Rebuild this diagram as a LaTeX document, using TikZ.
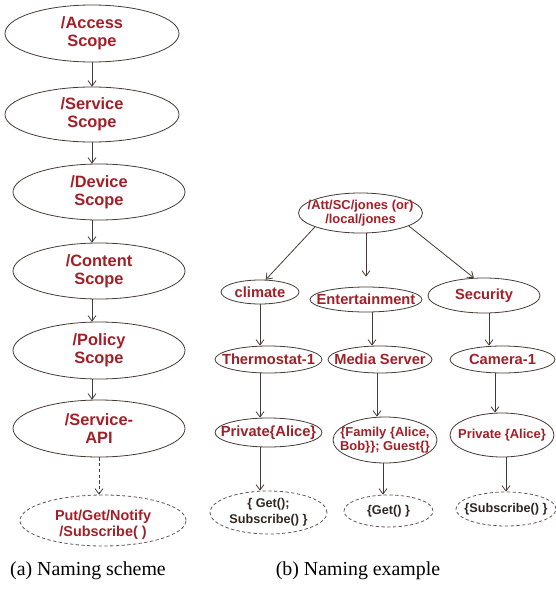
\documentclass[tikz,border=0pt]{standalone}
\usepackage{fontspec}
\setmainfont{Liberation Serif}
\setsansfont{Liberation Sans}
\usepackage{tikz}
\usetikzlibrary{shapes.geometric,arrows.meta}

\definecolor{namered}{HTML}{A31F27}
\definecolor{edgegray}{HTML}{453A36}
\definecolor{calltext}{HTML}{2F2622}

\tikzset{
  ell/.style={ellipse, draw=edgegray, line width=0.6pt, inner sep=0pt},
  callell/.style={ell, draw=edgegray!85, dash pattern=on 2.5pt off 1.8pt},
  scopetxt/.style={align=center, text=namered, font=\sffamily\bfseries\fontsize{12.3}{13.8}\selectfont},
  treetxt/.style={align=center, text=namered, font=\sffamily\bfseries\fontsize{11}{12.5}\selectfont},
  smalltxt/.style={align=center, text=namered, font=\sffamily\bfseries\fontsize{9.7}{10.8}\selectfont},
  puttxt/.style={align=center, text=namered, font=\sffamily\bfseries\fontsize{10.8}{11.8}\selectfont},
  calltxt/.style={align=center, text=calltext, font=\sffamily\bfseries\fontsize{9.5}{12}\selectfont},
  captxt/.style={font=\fontsize{14.9}{17}\selectfont, inner sep=0pt, anchor=base},
  arr/.style={-{Straight Barb[length=4pt,width=6pt]}, draw=edgegray, line width=0.6pt},
}

\begin{document}
\begin{tikzpicture}[x=0.75pt, y=-0.75pt]
  \useasboundingbox (0,0) rectangle (556,589);

  % (a) naming scheme
  \node[ell, minimum width=130.5pt, minimum height=42.75pt, label={[scopetxt]center:/Access\\Scope}] (acc) at (92,33.5) {};
  \node[ell, minimum width=130.5pt, minimum height=41.25pt, label={[scopetxt]center:/Service\\Scope}] (srv) at (92,114.5) {};
  \node[ell, minimum width=129pt, minimum height=42pt, label={[scopetxt]center:/Device\\Scope}] (dev) at (99,192) {};
  \node[ell, minimum width=129pt, minimum height=42pt, label={[scopetxt]center:/Content\\Scope}] (cnt) at (99,271) {};
  \node[ell, minimum width=129pt, minimum height=42.75pt, label={[scopetxt]center:/Policy\\Scope}] (pol) at (99,350.5) {};
  \node[ell, minimum width=129pt, minimum height=42.75pt, label={[scopetxt]center:/Service-\\API}] (api) at (99,428.5) {};
  \node[callell, minimum width=124.5pt, minimum height=38.25pt, label={[puttxt, yshift=-3pt]center:Put/Get/Notify\\/Subscribe( )}] (put) at (103,520.5) {};

  \draw[arr] (acc) -- (srv);
  \draw[arr] (srv) -- (srv |- dev.north);
  \draw[arr] (acc |- dev.south) -- (acc |- cnt.north);
  \draw[arr] (acc |- cnt.south) -- (acc |- pol.north);
  \draw[arr] (acc |- pol.south) -- (acc |- api.north);
  \draw[arr, dash pattern=on 2.5pt off 1.8pt] (api) -- (api |- put.north);

  % (b) naming example
  \node[ell, minimum width=93pt, minimum height=30pt, label={[smalltxt]center:/Att/SC/jones (or)\\/local/jones}] (root) at (360.5,213) {};

  \node[ell, minimum width=58.5pt, minimum height=18pt, label={[treetxt]center:climate}] (clim) at (260,292) {};
  \node[ell, minimum width=84pt, minimum height=18.75pt, label={[treetxt]center:Entertainment}] (ent) at (366,299.5) {};
  \node[ell, minimum width=84pt, minimum height=26.25pt, label={[treetxt]center:Security}] (sec) at (484,295.5) {};

  \node[ell, minimum width=80.25pt, minimum height=20.25pt, label={[treetxt]center:Thermostat-1}] (thm) at (268.5,359.5) {};
  \node[ell, minimum width=78pt, minimum height=20.25pt, label={[treetxt]center:Media Server}] (med) at (380,359.5) {};
  \node[ell, minimum width=78.75pt, minimum height=20.25pt, label={[treetxt]center:Camera-1}] (cam) at (502.5,359.5) {};

  \node[ell, minimum width=80.25pt, minimum height=21.75pt, label={[treetxt]center:Private\{Alice\}}] (prv1) at (268.5,432.5) {};
  \node[ell, minimum width=78pt, minimum height=34.5pt, label={[smalltxt]center:\{Family \{Alice,\\Bob\}\}; Guest\{\}}] (fam) at (385,440) {};
  \node[ell, minimum width=78pt, minimum height=33pt, label={[smalltxt]center:Private \{Alice\}}] (prv2) at (502,435) {};

  \node[callell, minimum width=87.75pt, minimum height=32.25pt, label={[calltxt]center:\{ Get();\\Subscribe() \}}] (get1) at (268.5,512.5) {};
  \node[callell, minimum width=66.75pt, minimum height=24pt, label={[calltxt]center:\{Get() \}}] (get2) at (388.5,511) {};
  \node[callell, minimum width=75pt, minimum height=25.5pt, label={[calltxt]center:\{Subscribe() \}}] (sub) at (506,509) {};

  \draw[arr] (root.197) -- (clim.65);
  \draw[arr] (root.south -| ent.north) -- ([yshift=7.5pt]ent.north);
  \draw[arr] (root.345) -- (sec.120);

  \draw[arr] (clim) -- (clim |- thm.north);
  \draw[arr] ([xshift=4.5pt]ent.south) -- ([xshift=4.5pt]ent.south |- med.north);
  \draw[arr] ([xshift=3.75pt]sec.south) -- ([xshift=3.75pt]sec.south |- cam.north);

  \draw[arr] (clim |- thm.south) -- (clim |- prv1.north);
  \draw[arr] ([xshift=-2.25pt]med.south) -- ([xshift=-2.25pt]med.south |- fam.north);
  \draw[arr] ([xshift=-5.6pt]cam.south) -- ([xshift=-5.6pt]cam.south |- prv2.north);

  \draw[arr] (clim |- prv1.south) -- (clim |- get1.north);
  \draw[arr] ([xshift=-1.5pt]fam.south) -- ([xshift=-1.5pt]fam.south |- get2.north);
  \draw[arr] (prv2.south -| sub.north) -- (sub.north);

  % captions
  \node[captxt] (capa) at (88,575) {(a) Naming scheme};
  \node[captxt] (capb) at (358,575) {(b) Naming example};
\end{tikzpicture}
\end{document}
